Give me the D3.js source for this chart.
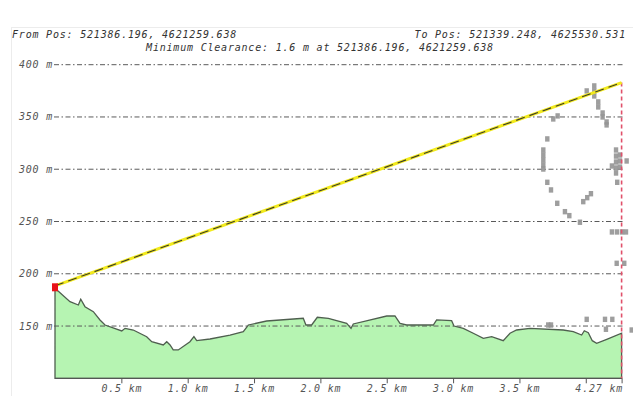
<!DOCTYPE html>
<html>
<head>
  <meta charset="utf-8">
  <script src="https://d3js.org/d3.v7.min.js"></script>
  <style>
    body { margin: 0; background: #fff; }
    .infoLabel { font-family: 'DejaVu Sans Mono', monospace; font-style: italic; font-size: 10px; letter-spacing: 0.8px; fill: #333; }
    .tickLabel { font-family: 'DejaVu Sans Mono', monospace; font-style: italic; font-size: 10px; letter-spacing: 0.8px; fill: #555; }
  </style>
</head>
<body>
<script>
  // header text
  var fromText = "From Pos: 521386.196, 4621259.638",
    toText = "To Pos: 521339.248, 4625530.531",
    clearanceText = "Minimum Clearance: 1.6 m at 521386.196, 4621259.638";

  // ground profile, distance in km and elevation in m
  var terrainKm = [0, 0.113, 0.176, 0.194, 0.226, 0.289, 0.339, 0.377, 0.503, 0.528, 0.59, 0.691, 0.729, 0.816, 0.842, 0.867, 0.891, 0.929,
    1.017, 1.047, 1.068, 1.168, 1.319, 1.419, 1.457, 1.595, 1.871, 1.891, 1.934, 1.977, 2.06, 2.198, 2.231, 2.248, 2.5, 2.562, 2.6, 2.65,
    2.851, 2.876, 2.989, 3.007, 3.077, 3.152, 3.228, 3.291, 3.378, 3.429, 3.479, 3.58, 3.83, 3.906, 3.969, 3.989, 4.019, 4.049, 4.082, 4.158, 4.27];
  var terrainM = [186.1, 173.3, 170.1, 175.6, 168.5, 163.7, 155.8, 151, 145.3, 147.8, 146.2, 139.8, 135, 131.9, 135, 131.9, 127.1, 127.1,
    135, 139.8, 136, 137.6, 141.4, 144.6, 151, 154.8, 157.4, 151, 151, 158.4, 157.4, 152.6, 147.8, 152, 159.6, 159.6, 152.6, 151,
    151, 155.8, 155.1, 150, 147.8, 143.1, 138.3, 139.8, 136, 143.1, 146.2, 147.8, 146.2, 144.6, 141.4, 145.5, 143.6, 136, 133.5, 137.3, 143.1];

  // line of sight between the two ends
  var losKm = [0, 4.27],
    losM = [188.5, 382.9];

  // grey obstruction cells
  var cellKm = [4.007, 4.064, 4.064, 4.064, 4.094, 4.094, 4.127, 4.127, 4.157, 4.157, 3.755, 3.788, 3.71, 3.68, 3.68, 3.68, 3.68, 3.68,
    3.71, 3.738, 3.785, 3.843, 3.876, 3.956, 3.981, 4.011, 4.039, 4.228, 4.228, 4.228, 4.228, 4.228, 4.258, 4.258, 4.258, 4.308, 4.197, 4.237,
    4.197, 4.235, 4.273, 4.303, 4.233, 4.29, 4.007, 4.145, 4.2, 4.152, 4.346, 3.717, 3.738];
  var cellM = [374.9, 379.7, 374.9, 370.1, 364.4, 359.6, 353.8, 350, 345.2, 342.4, 348.1, 351, 329, 318.4, 313.6, 308.9, 304.1, 300.2,
    287.5, 280.2, 267.4, 259.4, 255.6, 249.3, 269, 272.8, 276.6, 318.4, 312.6, 306.9, 301.2, 296.4, 313.6, 307.9, 302.1, 307.9, 303.1, 287.5,
    240, 240, 240, 240, 210, 210, 156.4, 156.4, 156.4, 146.9, 146.2, 151, 151];

  // axis ticks
  var yTicks = [150, 200, 250, 300, 350, 400],
    xTicks = [0.5, 1, 1.5, 2, 2.5, 3, 3.5, 4, 4.27],
    xTickLabels = ["0.5 km", "1.0 km", "1.5 km", "2.0 km", "2.5 km", "3.0 km", "3.5 km", "", "4.27 km"];

  var outerWidth = 633,
    outerHeight = 396;

  var xScale = d3.scaleLinear().domain([0, 4.27]).range([55, 621.6]);
  var yScale = d3.scaleLinear().domain([100, 400]).range([378.3, 64.7]);

  var svg = d3.select("body")
    .append("svg")
    .attr("width", outerWidth)
    .attr("height", outerHeight);

  // faint frame of the panel
  svg.append("rect")
    .attr("x", 11.5).attr("y", 27.5)
    .attr("width", 640).attr("height", 400)
    .attr("fill", "none")
    .attr("stroke", "#ececec");

  // header labels
  svg.append("text").attr("class", "infoLabel").attr("x", 12).attr("y", 38).text(fromText);
  svg.append("text").attr("class", "infoLabel").attr("x", 626).attr("y", 38).attr("text-anchor", "end").text(toText);
  svg.append("text").attr("class", "infoLabel").attr("x", 320).attr("y", 51).attr("text-anchor", "middle").text(clearanceText);

  var terrain = terrainKm.map(function(k, i) { return [k, terrainM[i]]; });

  // ground fill
  var area = d3.area()
    .x(function(d) { return xScale(d[0]); })
    .y0(yScale(100))
    .y1(function(d) { return yScale(d[1]); });

  svg.append("path")
    .datum(terrain)
    .attr("d", area)
    .attr("fill", "#b6f4b2");

  // dash-dot grid lines and y labels
  svg.append("g")
    .selectAll("line")
    .data(yTicks)
    .enter()
    .append("line")
    .attr("x1", xScale(0) - 1)
    .attr("x2", xScale(4.27) + 1)
    .attr("y1", function(d) { return yScale(d); })
    .attr("y2", function(d) { return yScale(d); })
    .attr("stroke", "#5a5a5a")
    .attr("stroke-width", 1)
    .attr("stroke-dasharray", "5,2.5,1.5,2.5");

  svg.append("g")
    .selectAll("text")
    .data(yTicks)
    .enter()
    .append("text")
    .attr("class", "tickLabel")
    .attr("x", 53)
    .attr("y", function(d) { return yScale(d) + 3.5; })
    .attr("text-anchor", "end")
    .text(function(d) { return d + " m"; });

  // ground outline, closed down to the axis
  svg.append("path")
    .datum(terrain)
    .attr("d", area)
    .attr("fill", "none")
    .attr("stroke", "#4f5f4f")
    .attr("stroke-width", 1.3);

  // bottom axis
  var xAxis = d3.axisBottom(xScale)
    .tickValues(xTicks)
    .tickSize(5)
    .tickFormat(function(d, i) { return xTickLabels[i]; });

  var axisG = svg.append("g")
    .attr("transform", "translate(0," + yScale(100) + ")")
    .call(xAxis);
  axisG.select(".domain").attr("stroke", "#555").attr("d", "M" + xScale(0) + ",0H" + xScale(4.27));
  axisG.selectAll(".tick line").attr("stroke", "#555");
  axisG.selectAll(".tick text")
    .attr("class", "tickLabel")
    .attr("y", 7)
    .attr("text-anchor", function(d) { return d === 4.27 ? "end" : "middle"; })
    .attr("dx", function(d) { return d === 4.27 ? 1 : 0; });

  // grey cells
  svg.append("g")
    .selectAll("rect")
    .data(cellKm)
    .enter()
    .append("rect")
    .attr("x", function(d) { return xScale(d) - 2.2; })
    .attr("y", function(d, i) { return yScale(cellM[i]) - 2.7; })
    .attr("width", 4.4)
    .attr("height", 5.4)
    .attr("fill", "#939393")
    .attr("opacity", 0.9);

  // red dashed end marker
  svg.append("line")
    .attr("x1", xScale(4.27)).attr("x2", xScale(4.27))
    .attr("y1", yScale(losM[1])).attr("y2", yScale(100))
    .attr("stroke", "#e0506a")
    .attr("stroke-width", 1.6)
    .attr("stroke-dasharray", "4,3");

  // line of sight, yellow with dark dashes on top
  var los = losKm.map(function(k, i) { return [k, losM[i]]; });
  var losLine = d3.line()
    .x(function(d) { return xScale(d[0]); })
    .y(function(d) { return yScale(d[1]); });

  svg.append("path").datum(los).attr("d", losLine)
    .attr("fill", "none").attr("stroke", "#f2ea1c").attr("stroke-width", 3);
  svg.append("path").datum(los).attr("d", losLine)
    .attr("fill", "none").attr("stroke", "#3a3a2a").attr("stroke-width", 1.1)
    .attr("stroke-dasharray", "9,5");

  // start point
  svg.append("rect")
    .attr("x", xScale(0) - 3)
    .attr("y", yScale(terrainM[0]) - 5)
    .attr("width", 6)
    .attr("height", 8)
    .attr("fill", "#e8121a");
</script>
</body>
</html>
